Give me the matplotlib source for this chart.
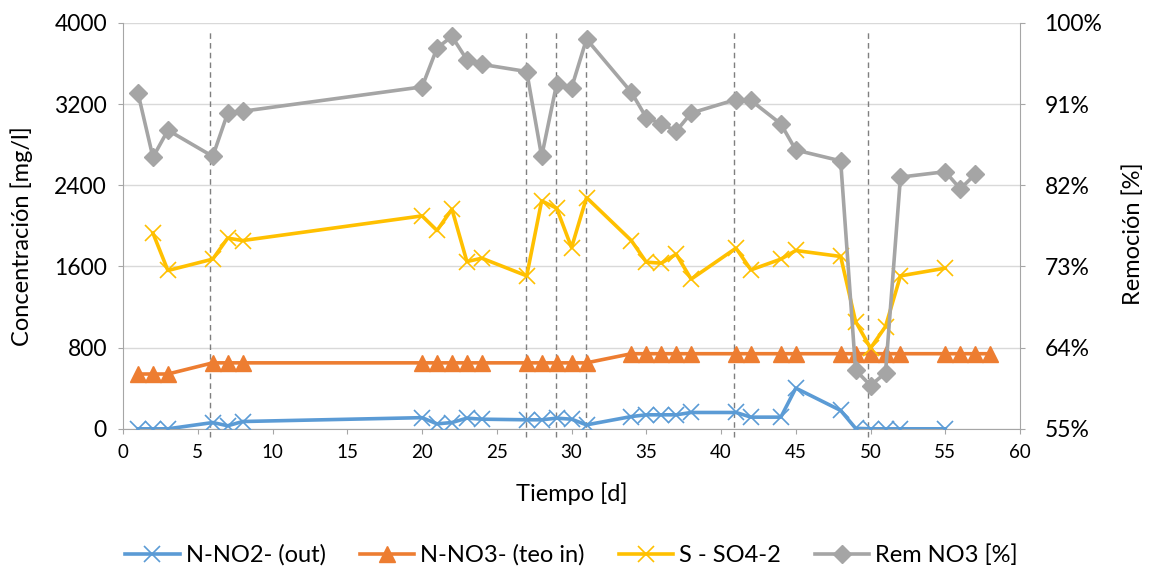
import matplotlib
matplotlib.use("Agg")
import matplotlib.pyplot as plt
from matplotlib.ticker import FuncFormatter, MultipleLocator

plt.rcParams["font.family"] = ["Lato", "DejaVu Sans"]

# ── Data ───────────────────────────────────────────────────────────────────
days_no2 = [1, 2, 3, 6, 7, 8, 20, 21, 22, 23, 24, 27, 28, 29, 30, 31,
            34, 35, 36, 37, 38, 41, 42, 44, 45, 48, 49, 50, 51, 52, 55]
no2_out = [0, 0, 0, 62, 30, 72, 110, 49, 62, 105, 95, 89, 89, 105, 95, 39,
           121, 138, 138, 138, 161, 161, 115, 115, 401, 181, 5, 0, 0, 0, 0]

days_no3 = [1, 2, 3, 6, 7, 8, 20, 21, 22, 23, 24, 27, 28, 29, 30, 31,
            34, 35, 36, 37, 38, 41, 42, 44, 45, 48, 49, 50, 51, 52, 55, 56, 57, 58]
no3_in = [540, 540, 540] + [650] * 13 + [740] * 18

days_so4 = [2, 3, 6, 7, 8, 20, 21, 22, 23, 24, 27, 28, 29, 30, 31,
            34, 35, 36, 37, 38, 41, 42, 44, 45, 48, 49, 50, 51, 52, 55]
so4 = [1928, 1560, 1672, 1879, 1855, 2098, 1954, 2164, 1648, 1681, 1507,
       2246, 2174, 1786, 2279, 1855, 1642, 1632, 1721, 1475, 1780, 1566,
       1672, 1757, 1698, 1057, 795, 1008, 1507, 1583]

days_rem = [1, 2, 3, 6, 7, 8, 20, 21, 22, 23, 24, 27, 28, 29, 30, 31,
            34, 35, 36, 37, 38, 41, 42, 44, 45, 48, 49, 50, 51, 52, 55, 56, 57]
rem_no3 = [0.922, 0.851, 0.881, 0.852, 0.900, 0.902, 0.929, 0.972, 0.985,
           0.959, 0.954, 0.946, 0.852, 0.932, 0.928, 0.982, 0.923, 0.895,
           0.888, 0.880, 0.900, 0.915, 0.914, 0.888, 0.859, 0.847, 0.615,
           0.598, 0.612, 0.829, 0.835, 0.816, 0.832]

# days marked with dashed vertical lines
events = [5.8, 26.95, 28.95, 30.95, 40.85, 49.85]

BLUE, ORANGE, YELLOW, GRAY = "#5B9BD5", "#ED7D31", "#FFC000", "#A5A5A5"
AXC = "#A6A6A6"

fig = plt.figure(figsize=(11.5, 5.71), dpi=100)
ax = fig.add_axes([0.107, 0.249, 0.78, 0.711])
ax2 = ax.twinx()

ax.plot(days_no2, no2_out, color=BLUE, lw=2.6, marker="x", ms=11, mew=1.2,
        label="N-NO2- (out)", zorder=3)
ax.plot(days_no3, no3_in, color=ORANGE, lw=2.6, marker="^", ms=11,
        label="N-NO3- (teo in)", zorder=3)
ax.plot(days_so4, so4, color=YELLOW, lw=2.6, marker="x", ms=11, mew=1.2,
        label="S - SO4-2", zorder=3)
ax2.plot(days_rem, rem_no3, color=GRAY, lw=2.6, marker="D", ms=9.5,
         label="Rem NO3 [%]", zorder=3)

for d in events:
    ax.plot([d, d], [-80, 3930], color="#7F7F7F", lw=1, ls=(0, (4, 3)),
            clip_on=False, zorder=2)

ax.set_xlim(0, 60)
ax.set_ylim(0, 4000)
ax.xaxis.set_major_locator(MultipleLocator(5))
ax.yaxis.set_major_locator(MultipleLocator(800))
ax2.set_ylim(0.55, 1.0)
ax2.set_yticks([0.55, 0.64, 0.73, 0.82, 0.91, 1.0])
ax2.yaxis.set_major_formatter(FuncFormatter(lambda v, p: f"{v * 100:.0f}%"))

ax.grid(axis="y", color="#D9D9D9", lw=1)
ax.set_axisbelow(True)

for a in (ax, ax2):
    a.spines["top"].set_visible(False)
    for s in ("left", "right", "bottom"):
        a.spines[s].set_color(AXC)
ax.spines["right"].set_visible(False)
ax2.spines["left"].set_visible(False)
ax2.spines["bottom"].set_visible(False)

ax.tick_params(axis="y", colors=AXC, labelcolor="#000000", labelsize=16.5,
               length=3.6, pad=8)
ax.tick_params(axis="x", colors=AXC, labelcolor="#000000", labelsize=13.5,
               length=3.6, pad=7)
ax2.tick_params(axis="y", colors=AXC, labelcolor="#000000", labelsize=16.5,
                length=3.6, pad=14)

ax.set_xlabel("Tiempo [d]", fontsize=17)
ax.set_ylabel("Concentración [mg/l]", fontsize=17)
ax2.set_ylabel("Remoción [%]", fontsize=17)
ax.xaxis.set_label_coords(0.5, -0.133)
ax.yaxis.set_label_coords(-0.1003, 0.475)
ax2.yaxis.set_label_coords(1.1137, 0.48)

h1, l1 = ax.get_legend_handles_labels()
h2, l2 = ax2.get_legend_handles_labels()
fig.legend(h1 + h2, l1 + l2, loc="center", bbox_to_anchor=(0.497, 0.028),
           ncol=4, frameon=False, fontsize=17, handlelength=2.3,
           columnspacing=1.45, handletextpad=0.25)

fig.savefig("out.png", dpi=100)
